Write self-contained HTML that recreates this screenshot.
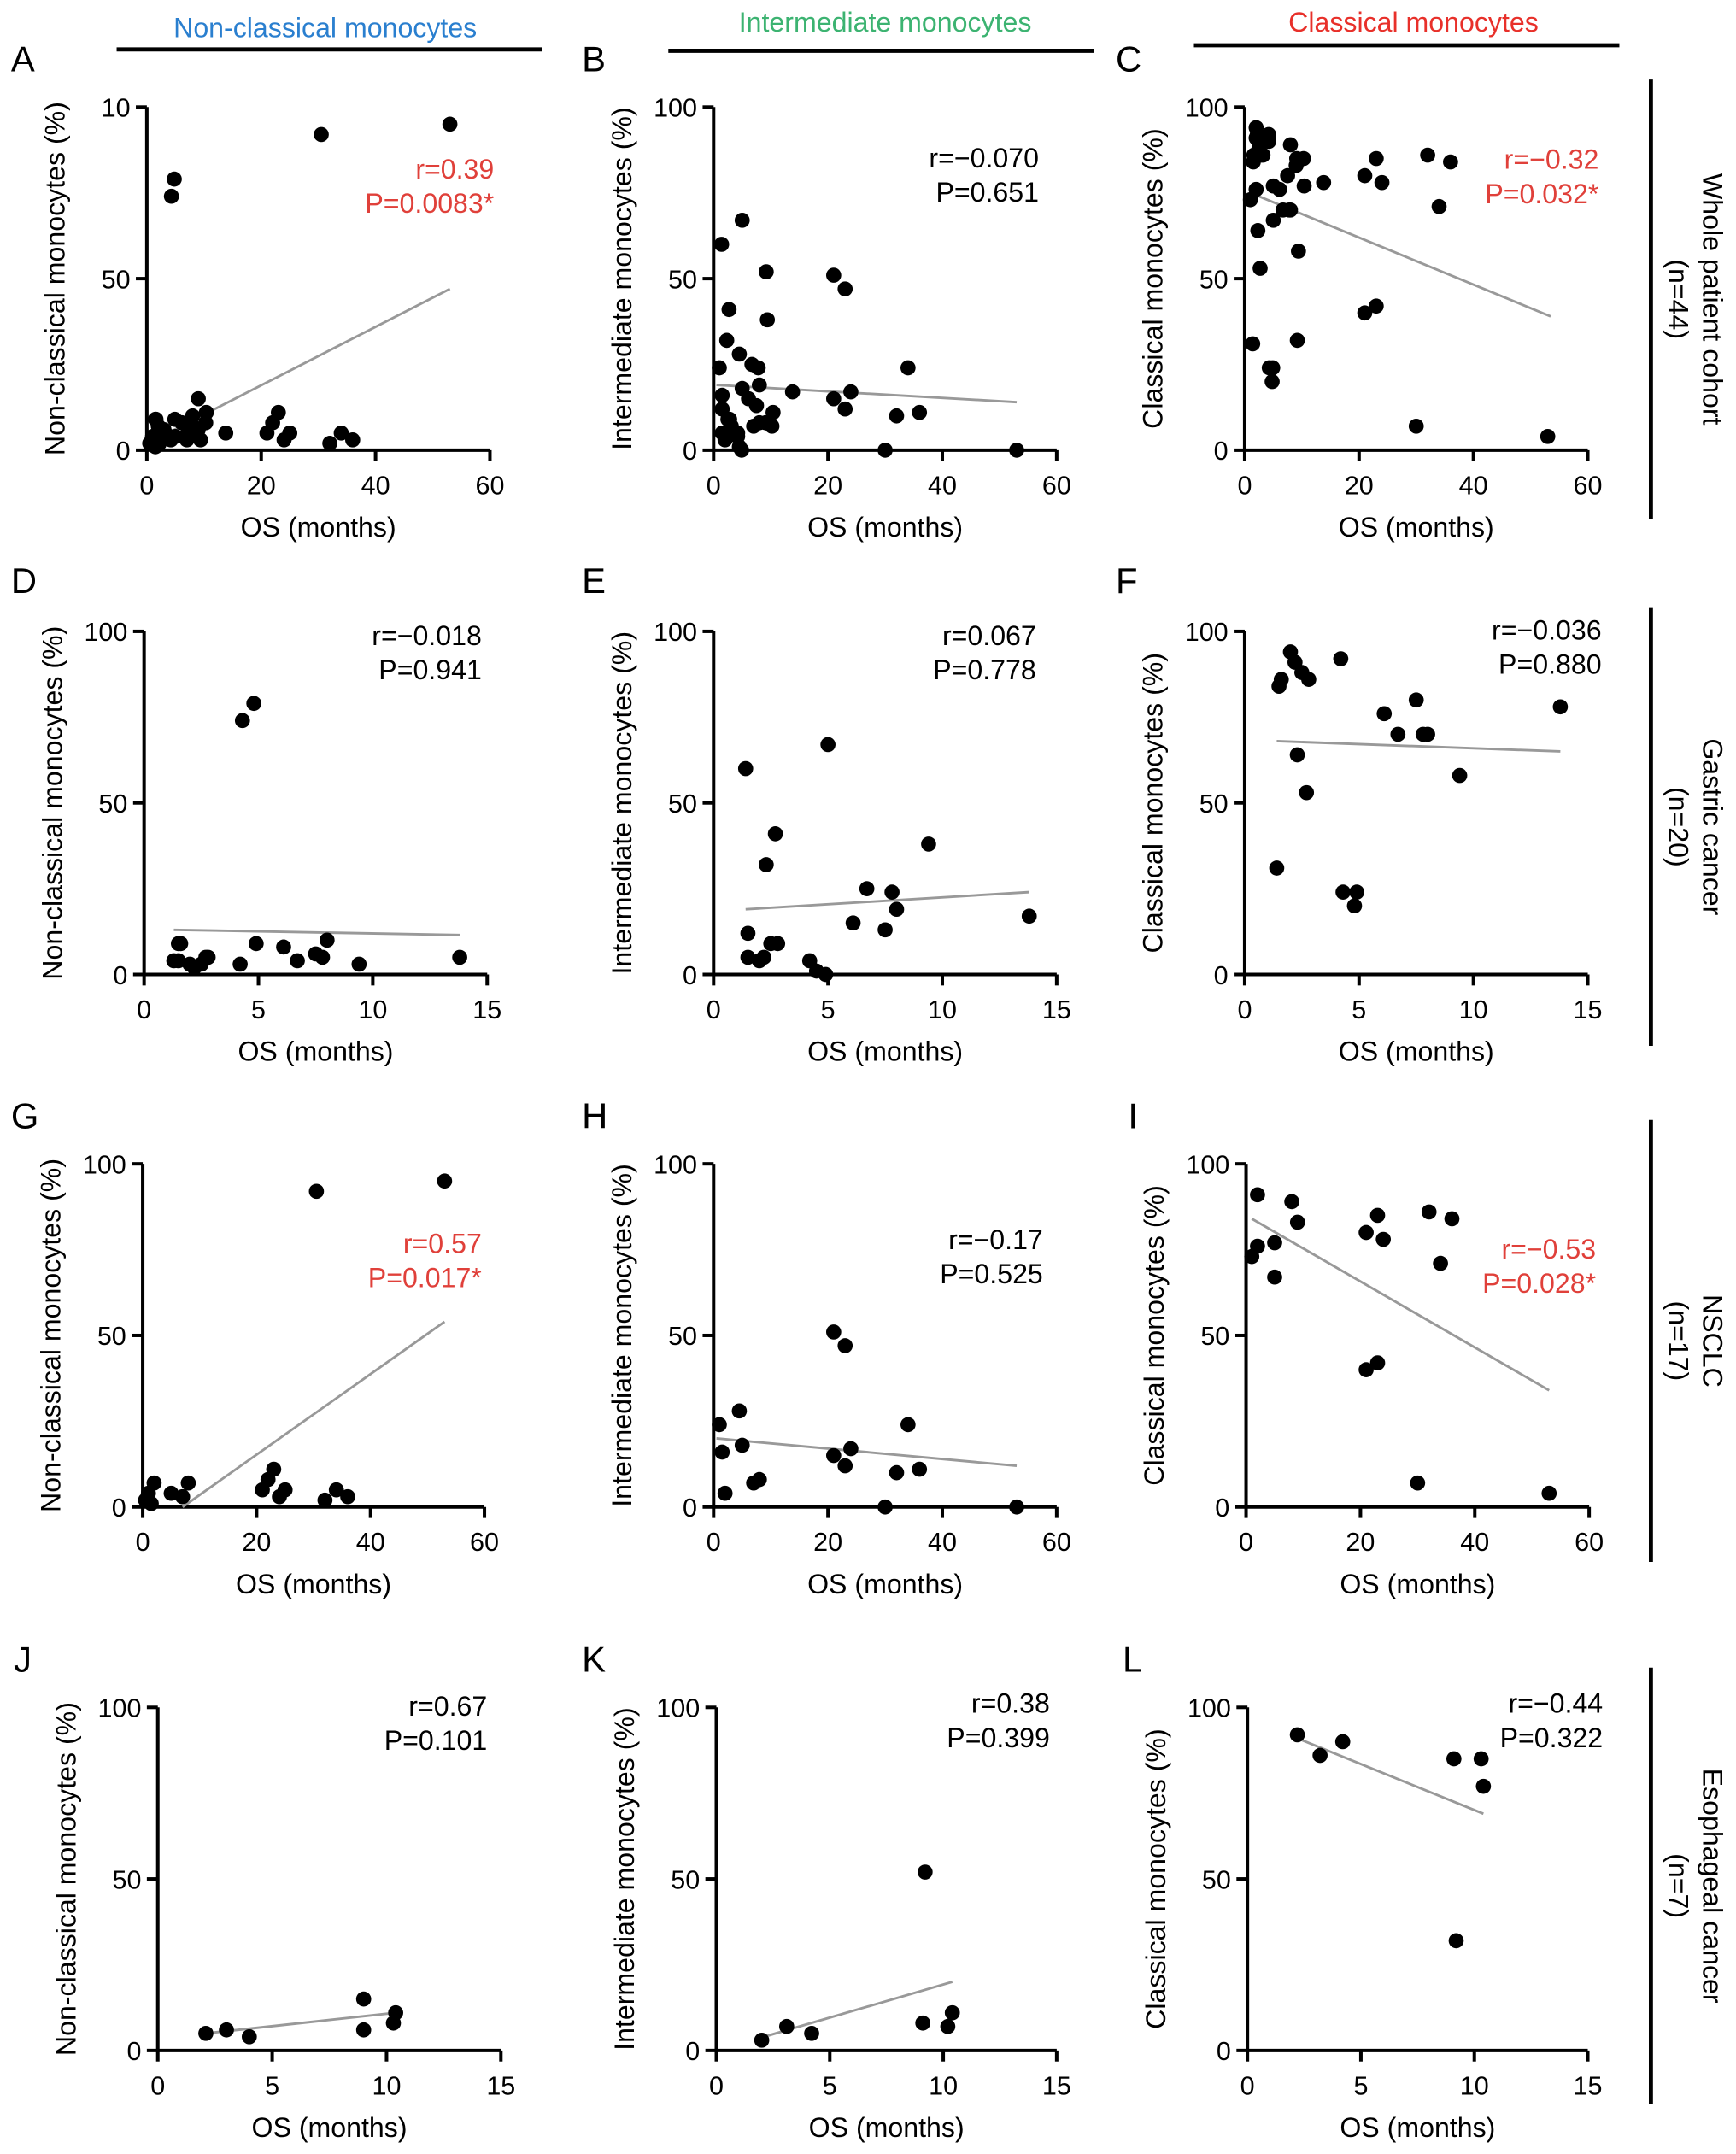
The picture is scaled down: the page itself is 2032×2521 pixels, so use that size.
<!DOCTYPE html>
<html><head><meta charset="utf-8"><style>
html,body{margin:0;padding:0;background:#fff;}
svg{display:block;font-family:"Liberation Sans",Arial,sans-serif;}
</style></head><body>
<svg id="fig" width="2032" height="2521" viewBox="0 0 1265 1569.4" xmlns="http://www.w3.org/2000/svg">
<g>
<text x="237" y="27" font-size="20" fill="#2a7fcf" text-anchor="middle">Non-classical monocytes</text>
<line x1="85" y1="36" x2="395" y2="36" stroke="#000" stroke-width="3"/>
<text x="645" y="23" font-size="20" fill="#3cb371" text-anchor="middle">Intermediate monocytes</text>
<line x1="487" y1="37" x2="797" y2="37" stroke="#000" stroke-width="3"/>
<text x="1030" y="23" font-size="20" fill="#e8302a" text-anchor="middle">Classical monocytes</text>
<line x1="870" y1="33" x2="1180" y2="33" stroke="#000" stroke-width="3"/>
</g>
<g id="rowlabels"></g>
<g id="panels"></g>
</svg>
<script>
// ---- data (months, %) ----
const gasX_D=[4.3,4.8,1.5,1.6,1.5,2.0,2.2,2.5,2.7,4.2,4.9,6.1,6.7,7.5,7.8,8.0,9.4,13.8,2.8,1.3];
const gasY_D=[74,79,9,9,4,3,2,3,5,3,9,8,4,6,5,10,3,5,5,4];
const gasX_E=[1.4,5.0,2.7,2.3,9.4,6.7,7.8,8.0,6.1,7.5,13.8,1.5,1.5,2.0,2.2,2.5,2.8,4.2,4.5,4.9];
const gasY_E=[60,67,41,32,38,25,24,19,15,13,17,12,5,4,5,9,9,4,1,0];
const gasX_F=[1.4,1.5,1.6,2.0,2.2,2.5,2.8,4.2,2.3,2.7,4.3,4.8,4.9,6.1,6.7,7.5,7.8,8.0,9.4,13.8];
const gasY_F=[31,84,86,94,91,88,86,92,64,53,24,20,24,76,70,80,70,70,58,78];
const nscX_G=[53,30.5,0.5,1,2,5,7,8,21,22,23,24,25,32,34,36,1.5];
const nscY_G=[95,92,2,4,7,4,3,7,5,8,11,3,5,2,5,3,1];
const nscX_H=[1,1.5,2,4.5,5,7,8,21,23,21,23,24,30,32,34,36,53];
const nscY_H=[24,16,4,28,18,7,8,51,47,15,12,17,0,10,24,11,0];
const nscX_I=[1,2,2,5,5,8,9,21,21,23,23,24,30,32,34,36,53];
const nscY_I=[73,91,76,77,67,89,83,80,40,85,42,78,7,86,71,84,4];
const escX_J=[2.1,3.0,4.0,9.0,9.0,10.3,10.4];
const escY_J=[5,6,4,15,6,8,11];
const escX_K=[2.0,3.1,4.2,9.2,9.1,10.2,10.4];
const escY_K=[3,7,5,52,8,7,11];
const escX_L=[2.2,3.2,4.2,9.1,10.3,10.4,9.2];
const escY_L=[92,86,90,85,85,77,32];
// fitted regression line endpoints [x1,y1,x2,y2]
const fitA=[1.3,3,53,47], fitB=[0.5,19,53,14], fitC=[1,75,53.5,39];
const fitD=[1.3,13,13.8,11.5], fitE=[1.4,19,13.8,24], fitF=[1.4,68,13.8,65];
const fitG=[7,0,53,54], fitH=[0.5,20,53,12], fitI=[1,84,53,34];
const fitJ=[2.1,5,10.4,11], fitK=[2.1,4,10.4,20], fitL=[2.2,91,10.4,69];
const statsText=[["r=0.39","P=0.0083*"],["r=\u22120.070","P=0.651"],["r=\u22120.32","P=0.032*"],
["r=\u22120.018","P=0.941"],["r=0.067","P=0.778"],["r=\u22120.036","P=0.880"],
["r=0.57","P=0.017*"],["r=\u22120.17","P=0.525"],["r=\u22120.53","P=0.028*"],
["r=0.67","P=0.101"],["r=0.38","P=0.399"],["r=\u22120.44","P=0.322"]];
const xTicks60=[0,20,40,60], xTicks15=[0,5,10,15], yTicks=[0,50,100];
const yTickLabelsA=["0","50","10"], yTickLabels=["0","50","100"];
const yTitles=["Non-classical monocytes (%)","Intermediate monocytes (%)","Classical monocytes (%)"];
const rowNames=[["Whole patient cohort","(n=44)"],["Gastric cancer","(n=20)"],["NSCLC","(n=17)"],["Esophageal cancer","(n=7)"]];

const NS="http://www.w3.org/2000/svg";
function mk(tag,attrs,parent){const e=document.createElementNS(NS,tag);for(const k in attrs)e.setAttribute(k,attrs[k]);if(parent)parent.appendChild(e);return e;}
const RED="#e0403a";
// layout (geometry, not data)
const P=[
{L:"A",lx:8,ly:52,x0:107,x1:357,y0:328,y1:78,xt:xTicks60,xs:[gasX_D,nscX_G,escX_J],ys:[gasY_D,nscY_G,escY_J],fit:fitA,sx:360,sy:130,red:1,ytl:yTickLabelsA,col:0},
{L:"B",lx:424,ly:52,x0:520,x1:770,y0:328,y1:78,xt:xTicks60,xs:[gasX_E,nscX_H,escX_K],ys:[gasY_E,nscY_H,escY_K],fit:fitB,sx:757,sy:122,red:0,col:1},
{L:"C",lx:813,ly:52,x0:907,x1:1157,y0:328,y1:78,xt:xTicks60,xs:[gasX_F,nscX_I,escX_L],ys:[gasY_F,nscY_I,escY_L],fit:fitC,sx:1165,sy:123,red:1,col:2},
{L:"D",lx:8,ly:432,x0:105,x1:355,y0:710,y1:460,xt:xTicks15,xs:[gasX_D],ys:[gasY_D],fit:fitD,sx:351,sy:470,red:0,col:0},
{L:"E",lx:424,ly:432,x0:520,x1:770,y0:710,y1:460,xt:xTicks15,xs:[gasX_E],ys:[gasY_E],fit:fitE,sx:755,sy:470,red:0,col:1},
{L:"F",lx:813,ly:432,x0:907,x1:1157,y0:710,y1:460,xt:xTicks15,xs:[gasX_F],ys:[gasY_F],fit:fitF,sx:1167,sy:466,red:0,col:2},
{L:"G",lx:8,ly:822,x0:104,x1:353,y0:1098,y1:848,xt:xTicks60,xs:[nscX_G],ys:[nscY_G],fit:fitG,sx:351,sy:913,red:1,col:0},
{L:"H",lx:424,ly:822,x0:520,x1:770,y0:1098,y1:848,xt:xTicks60,xs:[nscX_H],ys:[nscY_H],fit:fitH,sx:760,sy:910,red:0,col:1},
{L:"I",lx:822,ly:822,x0:908,x1:1158,y0:1098,y1:848,xt:xTicks60,xs:[nscX_I],ys:[nscY_I],fit:fitI,sx:1163,sy:917,red:1,col:2},
{L:"J",lx:10,ly:1218,x0:115,x1:365,y0:1494,y1:1244,xt:xTicks15,xs:[escX_J],ys:[escY_J],fit:fitJ,sx:355,sy:1250,red:0,col:0},
{L:"K",lx:424,ly:1218,x0:522,x1:770,y0:1494,y1:1244,xt:xTicks15,xs:[escX_K],ys:[escY_K],fit:fitK,sx:765,sy:1248,red:0,col:1},
{L:"L",lx:818,ly:1218,x0:909,x1:1157,y0:1494,y1:1244,xt:xTicks15,xs:[escX_L],ys:[escY_L],fit:fitL,sx:1168,sy:1248,red:0,col:2}];
const root=document.getElementById("panels");
P.forEach((p,i)=>{
  const g=mk("g",{},root);
  
  
  const xmax=p.xt[p.xt.length-1];
  const sx=v=>p.x0+(p.x1-p.x0)*v/xmax;
  const sy=v=>p.y0-(p.y0-p.y1)*v/100;
  const lt=mk("text",{x:p.lx,y:p.ly,"font-size":26},g);lt.textContent=p.L;
  
  
  mk("line",{x1:p.x0,y1:p.y0,x2:p.x0,y2:p.y1,stroke:"#000","stroke-width":2.5},g);
  mk("line",{x1:p.x0,y1:p.y0,x2:p.x1,y2:p.y0,stroke:"#000","stroke-width":2.5},g);
  const ytl=p.ytl||yTickLabels;
  yTicks.forEach((t,k)=>{
    mk("line",{x1:p.x0-8,y1:sy(t),x2:p.x0,y2:sy(t),stroke:"#000","stroke-width":2.5},g);
    const tx=mk("text",{x:p.x0-12,y:sy(t)+7,"font-size":19,"text-anchor":"end"},g);tx.textContent=ytl[k];
    
    
  });
  p.xt.forEach(t=>{
    mk("line",{x1:sx(t),y1:p.y0,x2:sx(t),y2:p.y0+8,stroke:"#000","stroke-width":2.5},g);
    const tx=mk("text",{x:sx(t),y:p.y0+32,"font-size":19,"text-anchor":"middle"},g);tx.textContent=t;
    
    
  });
  const xt=mk("text",{x:(p.x0+p.x1)/2,y:p.y0+63,"font-size":20,"text-anchor":"middle"},g);xt.textContent="OS (months)";
  
  
  const yc=(p.y0+p.y1)/2, yx=p.x0-60;
  const yt=mk("text",{x:yx,y:yc,"font-size":20,"text-anchor":"middle",transform:`rotate(-90 ${yx} ${yc})`},g);yt.textContent=yTitles[p.col];
  
  
  const f=p.fit;
  const ln=mk("line",{x1:sx(f[0]),y1:sy(f[1]),x2:sx(f[2]),y2:sy(f[3]),stroke:"#999","stroke-width":1.8},g);
  
  
  p.xs.forEach((xa,j)=>{xa.forEach((xv,k)=>{
    const c=mk("circle",{cx:sx(xv),cy:sy(p.ys[j][k]),r:5.5,fill:"#000"},g);
    
    
  });});
  statsText[i].forEach((s,k)=>{
    const t=mk("text",{x:p.sx,y:p.sy+k*25,"font-size":20,"text-anchor":"end",fill:p.red?RED:"#000"},g);t.textContent=s;
    
    
  });
});
const rl=document.getElementById("rowlabels");
const bars=[[58,378],[443,762],[816,1138],[1215,1533]];
bars.forEach((b,i)=>{
  const ln=mk("line",{x1:1203,y1:b[0],x2:1203,y2:b[1],stroke:"#000","stroke-width":3},rl);
  
  
  const c=(b[0]+b[1])/2;
  rowNames[i].forEach((s,k)=>{
    const x=1241-k*25;
    const t=mk("text",{x:x,y:c,"font-size":20,"text-anchor":"middle",transform:`rotate(90 ${x} ${c})`},rl);t.textContent=s;
    
    
  });
});
</script>
</body></html>
